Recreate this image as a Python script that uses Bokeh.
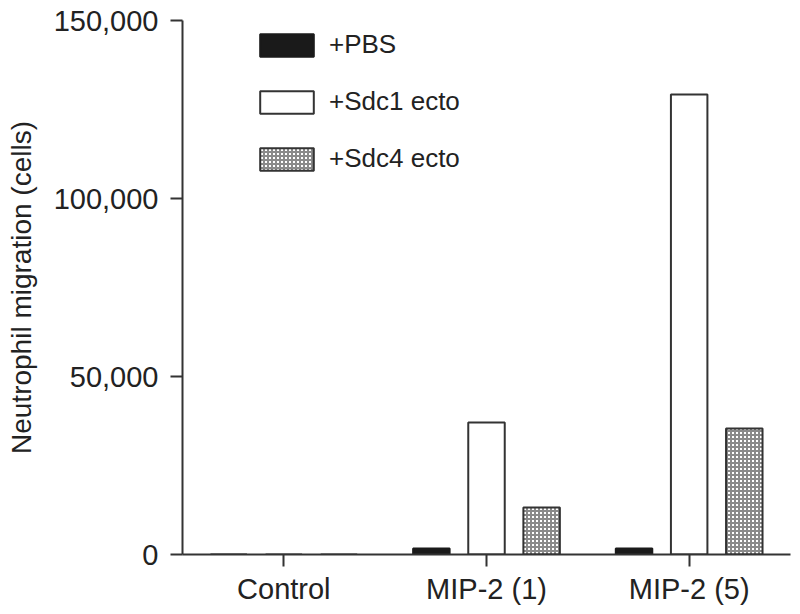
from bokeh.plotting import figure
from bokeh.models import (FactorRange, Range1d, NumeralTickFormatter, Legend, LegendItem,
                          ColumnDataSource, FixedTicker)
from bokeh.transform import dodge
from bokeh.embed import file_html
from bokeh.resources import INLINE

categories = ["Control", "MIP-2 (1)", "MIP-2 (5)"]
pbs = [0, 1700, 1700]
sdc1 = [0, 37100, 129200]
sdc4 = [0, 13200, 35400]
series_labels = ["+PBS", "+Sdc1 ecto", "+Sdc4 ecto"]
y_ticks = [0, 50000, 100000, 150000]

src = ColumnDataSource(dict(cat=categories, pbs=pbs, sdc1=sdc1, sdc4=sdc4))

FONT = "Liberation Sans"
TXT = "#222222"
AX = "#333333"

p = figure(x_range=FactorRange(*categories, range_padding=0),
           y_range=Range1d(0, 150000),
           width=798, height=612, output_backend="svg", toolbar_location=None,
           min_border_left=182, min_border_right=8, min_border_top=20, min_border_bottom=58)
p.outline_line_color = None
p.xgrid.grid_line_color = None
p.ygrid.grid_line_color = None
p.background_fill_color = "white"
p.border_fill_color = "white"

bw = 0.18
off = 0.272
r1 = p.vbar(x=dodge("cat", -off, range=p.x_range), top="pbs", width=bw, source=src,
            fill_color="#1a1a1a", line_color="#1a1a1a", line_width=2)
r2 = p.vbar(x=dodge("cat", 0, range=p.x_range), top="sdc1", width=bw, source=src,
            fill_color="white", line_color="#333333", line_width=2)
r3 = p.vbar(x=dodge("cat", off, range=p.x_range), top="sdc4", width=bw, source=src,
            fill_color="white", line_color="#333333", line_width=2,
            hatch_pattern="cross", hatch_color="#8a8a8a", hatch_scale=4, hatch_weight=2)

for ax in (p.xaxis, p.yaxis):
    ax.axis_line_color = AX
    ax.axis_line_width = 2
    ax.major_tick_line_color = AX
    ax.major_tick_line_width = 2
    ax.major_tick_out = 12
    ax.major_tick_in = 0
    ax.minor_tick_line_color = None
    ax.major_label_text_font = FONT
    ax.major_label_text_font_size = "29px"
    ax.major_label_text_color = TXT

p.yaxis.ticker = FixedTicker(ticks=y_ticks)
p.yaxis.formatter = NumeralTickFormatter(format="0,0")
p.yaxis.major_label_standoff = 12
p.yaxis.axis_label = "Neutrophil migration (cells)"
p.yaxis.axis_label_text_font = FONT
p.yaxis.axis_label_text_font_style = "normal"
p.yaxis.axis_label_text_font_size = "28px"
p.yaxis.axis_label_text_color = TXT
p.yaxis.axis_label_standoff = 14
p.xaxis.major_label_standoff = 6

legend = Legend(items=[LegendItem(label=series_labels[0], renderers=[r1]),
                       LegendItem(label=series_labels[1], renderers=[r2]),
                       LegendItem(label=series_labels[2], renderers=[r3])],
                location=(71, 380), orientation="vertical",
                glyph_width=67, glyph_height=28, label_height=22, spacing=26,
                label_standoff=9, padding=0, margin=0,
                border_line_color=None, background_fill_alpha=0,
                label_text_font=FONT, label_text_font_size="26px", label_text_color=TXT)
p.add_layout(legend)

open("out.html", "w").write(file_html(p, INLINE))
